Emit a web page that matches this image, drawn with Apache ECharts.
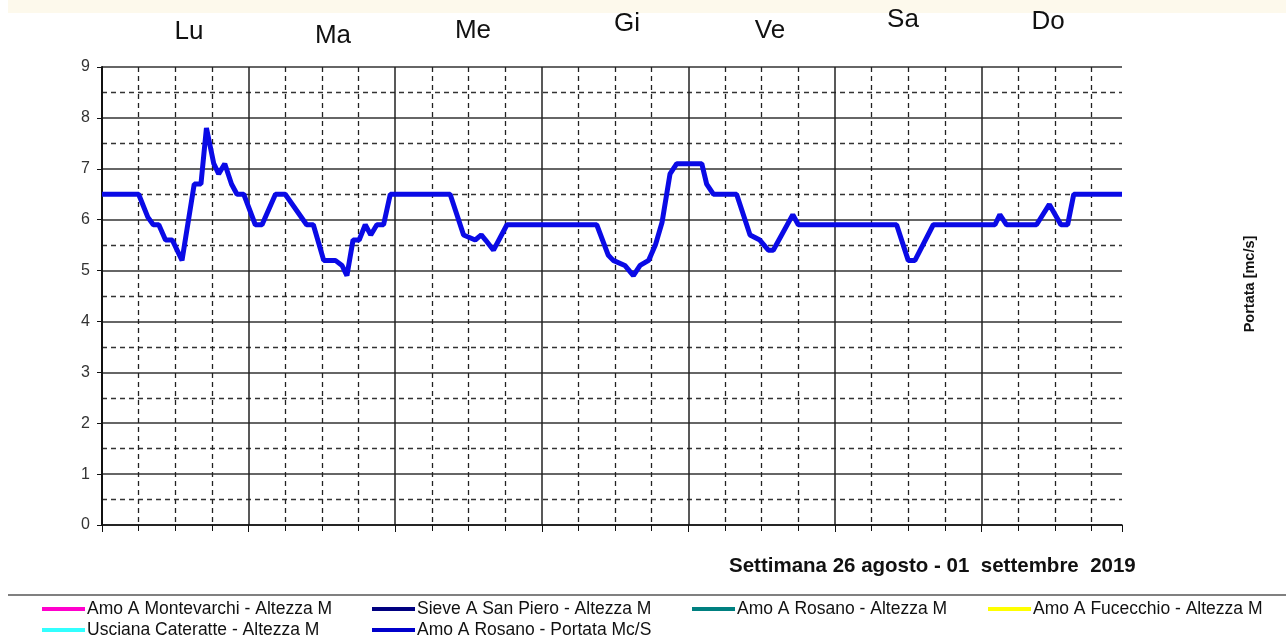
<!DOCTYPE html>
<html>
<head>
<meta charset="utf-8">
<script src="https://cdn.jsdelivr.net/npm/echarts@6/dist/echarts.min.js"></script>
<style>
  html, body { margin: 0; padding: 0; background: #fff; }
  #chart { width: 1286px; height: 642px; }
</style>
</head>
<body>
<div id="chart"></div>
<script>
// ore dall'inizio della settimana (lunedi 00:00), vertici della curva
var ore = [0, 6, 7.5, 8.4, 9.3, 10.4, 11.5, 13.1, 15.1, 16.2, 17.1, 18.3, 19.1, 20.1, 21.2,
  22.1, 23.2, 25.1, 26.2, 28.4, 30, 33.5, 34.6, 36.3, 38.2, 39.3, 40.1, 41.1, 42.1, 43.1,
  44, 45, 46.1, 47.2, 57, 59.2, 61.1, 62.1, 62.8, 64.1, 66.3, 81, 82.9, 83.7, 85.6,
  87, 88.1, 89.5, 90.6, 91.7, 93, 94.1, 98.2, 99, 100.1, 103.9, 106.1, 107.7, 109.1, 109.9,
  113.1, 114, 130.1, 132, 133.1, 136.1, 146.2, 147, 148.1, 153, 155.1, 157, 158.1, 159.1, 167];
// Amo A Rosano - Portata Mc/S
var portata = [6.5, 6.5, 6.05, 5.9, 5.9, 5.6, 5.6, 5.2, 6.7, 6.7, 7.8, 7.1, 6.9, 7.1, 6.7,
  6.5, 6.5, 5.9, 5.9, 6.5, 6.5, 5.9, 5.9, 5.2, 5.2, 5.1, 4.9, 5.6, 5.6, 5.9,
  5.7, 5.9, 5.9, 6.5, 6.5, 5.7, 5.6, 5.7, 5.6, 5.4, 5.9, 5.9, 5.3, 5.2, 5.1,
  4.9, 5.1, 5.2, 5.5, 5.95, 6.9, 7.1, 7.1, 6.7, 6.5, 6.5, 5.7, 5.6, 5.4, 5.4,
  6.1, 5.9, 5.9, 5.2, 5.2, 5.9, 5.9, 6.1, 5.9, 5.9, 6.3, 5.9, 5.9, 6.5, 6.5];

var giorni = ['Lu', 'Ma', 'Me', 'Gi', 'Ve', 'Sa', 'Do'];
var serieNomi = ['Amo A Montevarchi - Altezza M', 'Sieve A San Piero - Altezza M',
  'Amo A Rosano - Altezza M', 'Amo A Fucecchio - Altezza M',
  'Usciana Cateratte - Altezza M', 'Amo A Rosano - Portata Mc/S'];
var serieColori = ['#ff00cc', '#000080', '#008080', '#ffff00', '#33ffff', '#0000cc'];

// posizione delle etichette dei giorni (come nel grafico originale)
var giorniX = [189, 333, 473, 627, 770, 903, 1048];
var giorniY = [32, 36, 31, 24, 31, 20, 22];

var myChart = echarts.init(document.getElementById('chart'));

var punti = [];
ore.forEach(function (h, i) {
  punti.push([h, portata[i]]);
});

var series = serieNomi.map(function (nome, i) {
  return {
    name: nome,
    type: 'line',
    data: [],
    symbol: 'none',
    itemStyle: { color: serieColori[i] },
    lineStyle: { color: serieColori[i], width: 4 }
  };
});
series[5].data = punti;
series[5].lineStyle = { color: '#0a0ae6', width: 5 };
series[5].z = 5;

var graphic = [
  { type: 'rect', shape: { x: 8, y: 0, width: 1278, height: 13 }, style: { fill: '#fdf9ec' }, silent: true },
  { type: 'line', shape: { x1: 8, y1: 595, x2: 1286, y2: 595 }, style: { stroke: '#808080', lineWidth: 2 }, silent: true },
  {
    type: 'text', x: 1250, y: 284, rotation: Math.PI / 2,
    style: { text: 'Portata [mc/s]', font: 'bold 14.5px "Liberation Sans", Arial', fill: '#111', align: 'center', verticalAlign: 'middle' }
  }
];
giorni.forEach(function (g, i) {
  graphic.push({
    type: 'text', x: giorniX[i], y: giorniY[i],
    style: { text: g, font: '26px "Liberation Sans", Arial', fill: '#111', align: 'center', verticalAlign: 'middle' }
  });
});

function legenda(nomi, left) {
  return {
    data: nomi, orient: 'vertical', left: left, top: 595, height: 60,
    itemWidth: 43, itemHeight: 4, itemGap: 3, icon: 'rect',
    textStyle: { fontFamily: '"Liberation Sans", Arial', fontSize: 17.5, lineHeight: 16, color: '#111', padding: [0, 0, 0, -3] },
    selectedMode: false
  };
}

var option = {
  animation: false,
  backgroundColor: '#fff',
  title: {
    text: 'Settimana 26 agosto - 01  settembre  2019',
    left: 724, top: 551,
    textStyle: { fontFamily: '"Liberation Sans", Arial', fontSize: 20.5, fontWeight: 'bold', color: '#111' }
  },
  legend: [
    legenda([serieNomi[0], serieNomi[4]], 37),
    legenda([serieNomi[1], serieNomi[5]], 367),
    legenda([serieNomi[2]], 687),
    legenda([serieNomi[3]], 983)
  ],
  grid: { left: 102, right: 164, top: 67, bottom: 117 },
  xAxis: {
    type: 'value', min: 0, max: 167, interval: 24,
    axisLine: { lineStyle: { color: '#111', width: 1.5 } },
    axisTick: { show: true, length: 7, lineStyle: { color: '#111' } },
    minorTick: { show: true, splitNumber: 4, length: 6, lineStyle: { color: '#111' } },
    axisLabel: { show: false },
    splitLine: { show: true, showMaxLine: false, lineStyle: { color: '#222', width: 1.5 } },
    minorSplitLine: { show: true, lineStyle: { color: '#222', width: 1.3, type: [5, 4] } }
  },
  yAxis: {
    type: 'value', min: 0, max: 9, interval: 1,
    axisLine: { show: true, lineStyle: { color: '#111', width: 2 } },
    axisTick: { show: true, length: 5, lineStyle: { color: '#111' } },
    minorTick: { show: false, splitNumber: 2 },
    axisLabel: { fontFamily: '"Liberation Sans", Arial', fontSize: 16, color: '#333', margin: 12 },
    splitLine: { show: true, lineStyle: { color: '#333', width: 1.5 } },
    minorSplitLine: { show: true, lineStyle: { color: '#333', width: 1.3, type: [5, 4] } }
  },
  graphic: graphic,
  series: series
};

myChart.setOption(option);
</script>
</body>
</html>
